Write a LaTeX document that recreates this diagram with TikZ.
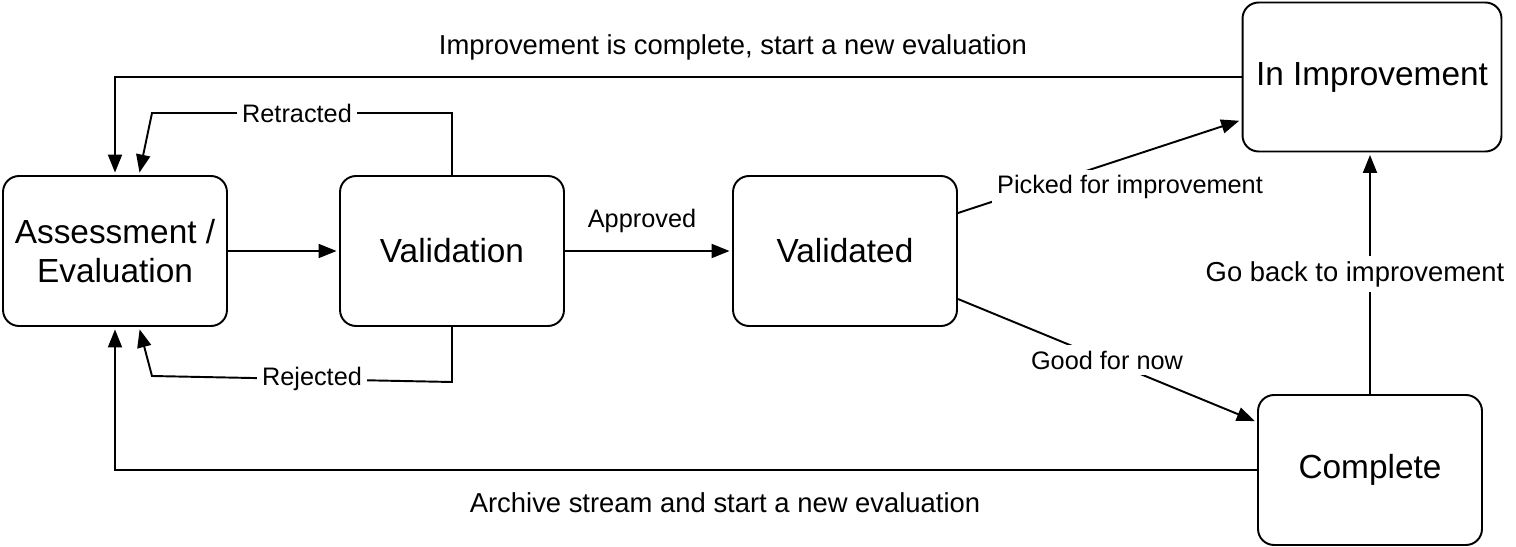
\documentclass[tikz,border=0pt]{standalone}
\usepackage{fontspec}
\setmainfont{Liberation Sans}
\usetikzlibrary{arrows.meta}

\tikzset{
  state/.style={draw,line width=1.1pt,rounded corners=0.32cm,align=center,
    minimum width=4.48cm,minimum height=3cm,
    font=\fontsize{19}{22}\selectfont},
  flow/.style={line width=1.1pt,shorten >=0.05cm,
    -{Triangle[length=0.36cm,width=0.28cm]}},
  lbl/.style={fill=white,inner sep=3pt,font=\fontsize{14.4}{17}\selectfont},
  biglbl/.style={lbl,font=\fontsize{15.6}{18}\selectfont}
}

\begin{document}
\begin{tikzpicture}[x=0.02cm,y=-0.02cm]
  \useasboundingbox (0,0) rectangle (1516,547);

  \node[state] (assess) at (115,251) {Assessment /\\Evaluation};
  \node[state] (validation) at (452,251) {Validation};
  \node[state] (validated) at (845,251) {Validated};
  \node[state,minimum width=5.18cm,minimum height=2.98cm] (improve) at (1372,77)
    {In Improvement};
  \node[state] (complete) at (1370,470) {Complete};

  % straight steps
  \draw[flow] (assess) -- (validation);
  \draw[flow] (validation) -- (validated);
  \node[lbl,fill=none] (approved) at (642,221) {Approved};

  % back to assessment
  \draw[flow] (validation.north) -- (452,113) -- (152,113)
    -- ([xshift=0.48cm]assess.north);
  \node[lbl] (retracted) at (297,113) {Retracted};
  \draw[flow] (validation.south) -- (452,382) -- (152,376)
    -- ([xshift=0.48cm]assess.south);
  \node[lbl] (rejected) at (312,379) {Rejected};

  % long loops
  \draw[flow] (improve.west) -| (assess.north);
  \node[biglbl,fill=none] (restart) at (733,47)
    {Improvement is complete, start a new evaluation};
  \draw[flow] (complete.west) -| (assess.south);
  \node[biglbl,fill=none] (archive) at (725,503)
    {Archive stream and start a new evaluation};

  % out of validated
  \draw[flow] ([yshift=0.76cm]validated.east) -- ([yshift=-0.86cm]improve.west);
  \node[lbl] (picked) at (1130,187) {Picked for improvement};
  \draw[flow] ([yshift=-0.96cm]validated.east) -- ([yshift=0.96cm]complete.west);
  \node[lbl] (goodnow) at (1107,360) {Good for now};

  \draw[flow] (complete.north) -- (complete.north |- improve.south);
  \node[biglbl] (goback) at (1355,274) {Go back to improvement};
\end{tikzpicture}
\end{document}
